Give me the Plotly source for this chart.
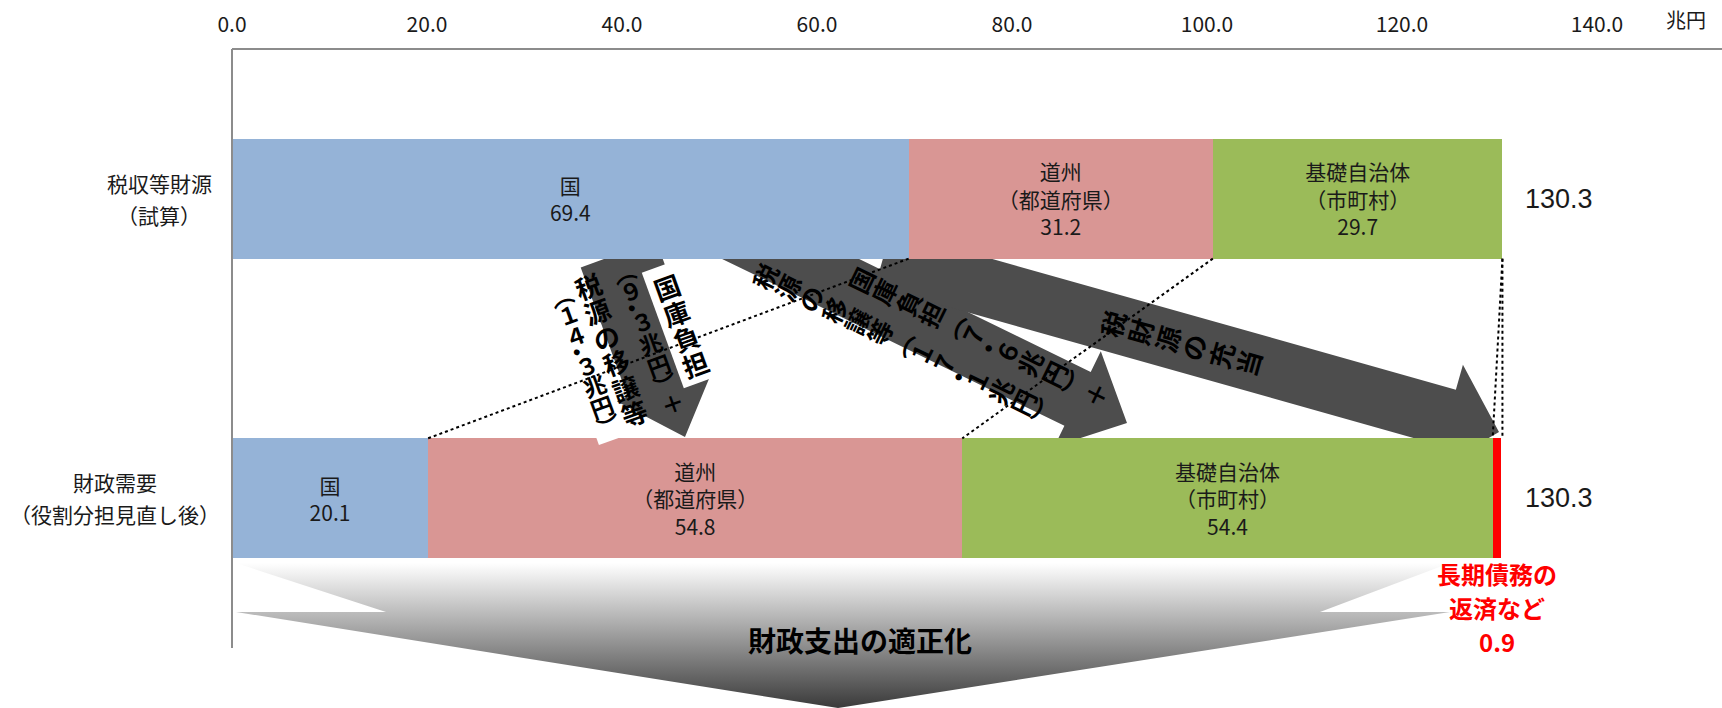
import math
import plotly.graph_objects as go

# ---------------- data ----------------
categories = ["税収等財源<br>（試算）", "財政需要<br>（役割分担見直し後）"]
segment_names = ["国", "道州<br>（都道府県）", "基礎自治体<br>（市町村）", "長期債務の返済など"]
kuni = [69.4, 20.1]
doshu = [31.2, 54.8]
kiso = [29.7, 54.4]
saimu = [0.0, 0.9]
totals = [130.3, 130.3]
tick_values = [0, 20, 40, 60, 80, 100, 120, 140]
unit_label = "兆円"
saimu_label = "長期債務の<br>返済など"
arrow1_columns = ["国庫負担", "（9.3兆円）＋", "税源の移譲等", "（14.3兆円）"]
arrow2_columns = ["国庫負担（7.6兆円）＋", "税源の移譲等（17.1兆円）"]
arrow3_columns = ["税財源の充当"]
bottom_arrow_label = "財政支出の適正化"

# ---------------- style / geometry ----------------
W, H = 1722, 708
PL, PT, PB = 232, 49, 648           # plot area in pixels
PXU = 9.75                          # pixels per 兆円
ROW = (PB - PT) / 2.0
seg_colors = ["#95B3D7", "#D99694", "#9BBB59", "#FF0000"]
ARROW_COLOR = "#4D4D4D"
AXIS_COLOR = "#8C8C8C"
LAT = "Liberation Sans Narrow, Noto Sans CJK JP"
CJK = "Noto Sans CJK JP"


def pp(px, py):
    return px / W, 1 - py / H


def ypix(pos):
    return PT + (pos + 0.5) * ROW


def xpix(v):
    return PL + v * PXU


def vertical_tokens(s):
    toks = []
    for c in s:
        if c == "（":
            toks.append("︵")
        elif c == "）":
            toks.append("︶")
        elif c == ".":
            toks.append("・")
        elif c.isdigit() and ord(c) < 128:
            toks.append(chr(ord(c) + 0xFEE0))
        else:
            toks.append(c)
    return toks


def poly_path(pts):
    return "M " + " L ".join("%.5f,%.5f" % pp(px, py) for px, py in pts) + " Z"


def arrow_path(tip, angle_deg, length, w, hw, hl):
    a = math.radians(angle_deg)
    dx, dy = math.cos(a), math.sin(a)
    nx, ny = -dy, dx
    tx, ty = tip
    bx, by = tx - hl * dx, ty - hl * dy
    sx, sy = tx - length * dx, ty - length * dy
    pts = [(sx + w * nx, sy + w * ny), (bx + w * nx, by + w * ny),
           (bx + hw * nx, by + hw * ny), (tx, ty),
           (bx - hw * nx, by - hw * ny), (bx - w * nx, by - w * ny),
           (sx - w * nx, sy - w * ny)]
    return poly_path(pts)


fig = go.Figure()

series = [kuni, doshu, kiso, saimu]
for name, vals, col in zip(segment_names, series, seg_colors):
    is_red = col == "#FF0000"
    fig.add_trace(go.Bar(
        y=categories, x=vals, orientation="h", width=0.4,
        marker=dict(color=col, line=dict(width=0)),
        text=None if is_red else [f"{name}<br>{v:.1f}" for v in vals],
        textposition="inside", insidetextanchor="middle", textangle=0,
        constraintext="none",
        textfont=dict(family=LAT, size=21, color="#1a1a1a"),
        hoverinfo="skip", showlegend=False, xaxis="x", yaxis="y",
    ))

# bottom gradient arrow (pixel-space subplot)
bx_pts = [236, 386, 236, 838, 1450, 1320, 1450, 236]
by_pts = [563, 612, 612, 708, 612, 612, 563, 563]
fig.add_trace(go.Scatter(
    x=bx_pts, y=by_pts, mode="lines", fill="toself",
    line=dict(width=0, color="rgba(0,0,0,0)"),
    fillgradient=dict(type="vertical", colorscale=[[0, "#FFFFFF"], [1, "#3A3A3A"]],
                      start=563, stop=708),
    hoverinfo="skip", showlegend=False, xaxis="x2", yaxis="y2",
))

shapes = []
ann = []
# axis lines (top and left)
shapes.append(dict(type="line", xref="paper", yref="paper",
                   x0=PL / W, x1=1, y0=1 - PT / H, y1=1 - PT / H,
                   line=dict(color=AXIS_COLOR, width=2), layer="above"))
shapes.append(dict(type="line", xref="paper", yref="paper",
                   x0=PL / W, x1=PL / W, y0=1 - PT / H, y1=1 - PB / H,
                   line=dict(color=AXIS_COLOR, width=2), layer="above"))

# dark arrows (drawn below the bars)
for tip, ang, ln, w, hw, hl in [((685, 437), 70, 195, 40, 52, 57),
                                ((1127, 423), 26, 437, 30, 53, 55),
                                ((1499, 432), 15.75, 640, 29, 55, 53)]:
    shapes.append(dict(type="path", path=arrow_path(tip, ang, ln, w, hw, hl),
                       xref="paper", yref="paper", layer="below",
                       fillcolor=ARROW_COLOR, line=dict(width=0)))


def add_text(px, py, text, size, color="#1a1a1a", family=LAT, angle=0,
             xanchor="center", align="center"):
    x, y = pp(px, py)
    ann.append(dict(x=x, y=y, xref="paper", yref="paper", text=text,
                    showarrow=False, xanchor=xanchor, yanchor="middle",
                    align=align, textangle=angle,
                    font=dict(family=family, size=size, color=color)))


def column(cx, cy, text, angle, pitch, size, box=None):
    toks = vertical_tokens(text)
    adv = [0.8 if t in "︵︶" else (0.45 if t == "・" else 1.0) for t in toks]
    centers = []
    pos = 0.0
    for av in adv:
        centers.append(pos + av * pitch / 2)
        pos += av * pitch
    mid = (centers[0] + centers[-1]) / 2
    a = math.radians(angle)
    dx, dy = -math.sin(a), math.cos(a)
    nx, ny = math.cos(a), math.sin(a)
    if box:
        hw, pre, post = box
        s0 = centers[0] - mid - pre
        s1 = centers[-1] - mid + post
        pts = [(cx + s0 * dx + hw * nx, cy + s0 * dy + hw * ny),
               (cx + s1 * dx + hw * nx, cy + s1 * dy + hw * ny),
               (cx + s1 * dx - hw * nx, cy + s1 * dy - hw * ny),
               (cx + s0 * dx - hw * nx, cy + s0 * dy - hw * ny)]
        shapes.append(dict(type="path", path=poly_path(pts), xref="paper",
                           yref="paper", layer="above", fillcolor="white",
                           line=dict(width=0)))
    for t, c in zip(toks, centers):
        o = c - mid
        shift = 0.0
        if t == "・":       # dot sits beside the following digit
            shift = -0.22 * pitch
        add_text(cx + o * dx + shift * nx, cy + o * dy + shift * ny,
                 "<b>" + t + "</b>", size, color="black", family=CJK, angle=angle)


# arrow 1 texts
column(681, 325, arrow1_columns[0], -20, 27, 26, box=(19, 22, 20))
column(648, 337, arrow1_columns[1], -20, 23, 23)
column(611, 349, arrow1_columns[2], -20, 27, 26)
column(585, 360, arrow1_columns[3], -20, 22, 23, box=(16, 16, 16))

# arrow 2 texts
column(978, 337, arrow2_columns[0], -64, 26, 25)
column(904, 344, arrow2_columns[1], -64, 25.5, 25)

# arrow 3 text
column(1180, 343, arrow3_columns[0], -74.25, 28, 26)

# dotted connector lines between segment boundaries
top_cum, bot_cum = [], []
s = 0
for v in (kuni[0], doshu[0], kiso[0]):
    s += v
    top_cum.append(s)
s = 0
for v in (kuni[1], doshu[1], kiso[1], saimu[1]):
    s += v
    bot_cum.append(s)
y_top = 1 - (ypix(0) + 0.2 * ROW) / H
y_bot = 1 - (ypix(1) - 0.2 * ROW) / H
for x0, x1 in [(top_cum[0], bot_cum[0]), (top_cum[1], bot_cum[1]),
               (totals[0], bot_cum[2]), (totals[0], totals[1])]:
    shapes.append(dict(type="line", xref="x", yref="paper", x0=x0, x1=x1,
                       y0=y_top, y1=y_bot, layer="above",
                       line=dict(color="black", width=2, dash="dot")))

# category labels (centred lines, as in the original)
cat_centers = [159, 115]
for i, cat in enumerate(categories):
    lines = cat.split("<br>")
    for j, ln in enumerate(lines):
        off = (j - (len(lines) - 1) / 2) * 32
        add_text(cat_centers[i], ypix(i) + off, ln, 21, family=CJK)

# totals
for i, t in enumerate(totals):
    add_text(1559, ypix(i), f"{t:.1f}", 27, family="Liberation Sans, Arial")

# unit
add_text(1686, 19, unit_label, 20, family=CJK)

# red label for the small segment
red_x = xpix(bot_cum[2] + saimu[1] / 2)
for j, ln in enumerate(saimu_label.split("<br>") + [f"{saimu[1]:.1f}"]):
    add_text(red_x, 573 + j * 34, f"<b>{ln}</b>", 24, color="#FF0000", family=LAT)

# bottom arrow label
add_text(860, 640, f"<b>{bottom_arrow_label}</b>", 28, color="black", family=CJK)

fig.update_layout(
    width=W, height=H, barmode="stack",
    margin=dict(l=0, r=0, t=0, b=0, pad=0, autoexpand=False),
    paper_bgcolor="white", plot_bgcolor="rgba(0,0,0,0)",
    showlegend=False,
    xaxis=dict(domain=[0, 1], range=[-PL / PXU, (W - PL) / PXU], side="top",
               anchor="y", automargin=False,
               tickvals=tick_values, ticktext=[f"{v:.1f}" for v in tick_values],
               showgrid=False, zeroline=False, showline=False, ticks="",
               ticklabelstandoff=12,
               tickfont=dict(family=LAT, size=21, color="#1a1a1a")),
    yaxis=dict(domain=[1 - PB / H, 1 - PT / H], type="category",
               range=[1.5, -0.5], anchor="x", showticklabels=False,
               automargin=False, showgrid=False, zeroline=False,
               showline=False, ticks=""),
    xaxis2=dict(domain=[0, 1], range=[0, W], visible=False, anchor="y2",
                fixedrange=True, automargin=False),
    yaxis2=dict(domain=[0, 1], range=[H, 0], visible=False, anchor="x2",
                fixedrange=True, automargin=False),
    shapes=shapes, annotations=ann,
)

fig.write_html("out.html")
